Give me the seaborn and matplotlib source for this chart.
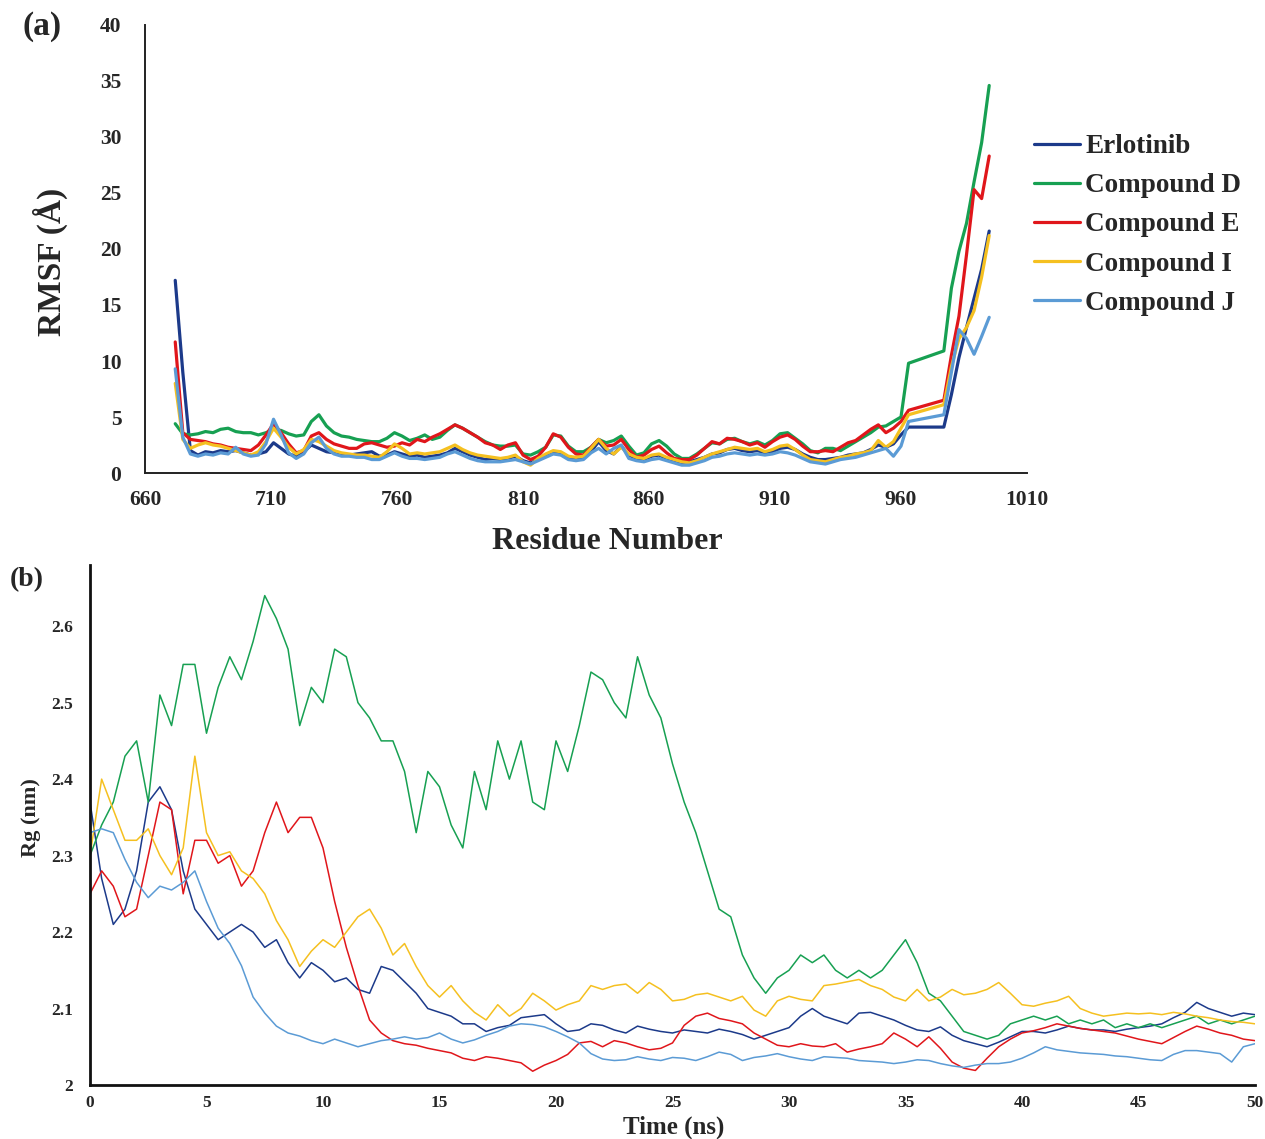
import matplotlib
matplotlib.use("Agg")
import matplotlib.pyplot as plt
import seaborn as sns
import pandas as pd

# ---------------- data ----------------
COMPOUNDS = ["Erlotinib", "Compound D", "Compound E", "Compound I", "Compound J"]
COLORS = ["#1c3a8a", "#17a052", "#e0161b", "#f5c020", "#5b9bd5"]

# Panel (a): RMSF per residue
RESIDUES = list(range(672, 964, 3)) + [977, 980, 983, 986, 989, 992, 995]

RMSF_ERLOTINIB = [
    17.2, 9.0, 2.0, 1.6, 1.9, 1.8, 2.0, 1.9, 2.0, 1.8,
    1.6, 1.7, 1.9, 2.7, 2.2, 1.7, 1.5, 1.9, 2.5, 2.2,
    1.9, 1.8, 1.6, 1.6, 1.7, 1.8, 1.9, 1.5, 1.6, 1.9,
    1.7, 1.5, 1.6, 1.4, 1.5, 1.6, 1.8, 2.2, 1.9, 1.6,
    1.4, 1.2, 1.3, 1.2, 1.3, 1.5, 1.1, 0.9, 1.2, 1.5,
    1.9, 1.7, 1.3, 1.3, 1.4, 1.9, 2.8, 2.0, 1.7, 2.4,
    1.6, 1.3, 1.2, 1.5, 1.6, 1.3, 1.0, 0.9, 1.0, 1.2,
    1.4, 1.7, 1.8, 2.1, 2.2, 2.0, 1.9, 2.0, 1.8, 1.9,
    2.2, 2.3, 2.1, 1.7, 1.4, 1.2, 1.2, 1.3, 1.4, 1.6,
    1.7, 1.8, 2.1, 2.5, 2.3, 2.6, 3.4, 4.1,
    4.1, 7.0, 10.3, 13.0, 15.6, 18.2, 21.6]

RMSF_D = [
    4.4, 3.5, 3.4, 3.5, 3.7, 3.6, 3.9, 4.0, 3.7, 3.6,
    3.6, 3.4, 3.6, 3.9, 3.8, 3.5, 3.3, 3.4, 4.6, 5.2,
    4.2, 3.6, 3.3, 3.2, 3.0, 2.9, 2.8, 2.8, 3.1, 3.6,
    3.3, 2.9, 3.1, 3.4, 3.0, 3.2, 3.8, 4.3, 4.0, 3.6,
    3.2, 2.8, 2.5, 2.4, 2.4, 2.5, 1.7, 1.6, 1.9, 2.3,
    3.4, 3.3, 2.4, 1.9, 1.9, 2.3, 3.0, 2.7, 2.9, 3.3,
    2.4, 1.6, 1.8, 2.6, 2.9, 2.4, 1.7, 1.3, 1.3, 1.7,
    2.2, 2.7, 2.6, 3.0, 3.1, 2.8, 2.6, 2.8, 2.5, 2.9,
    3.5, 3.6, 3.1, 2.6, 2.0, 1.8, 2.2, 2.2, 2.0, 2.4,
    2.8, 3.2, 3.6, 4.1, 4.2, 4.6, 5.0, 9.8,
    10.9, 16.5, 19.8, 22.3, 26.0, 29.5, 34.6]

RMSF_E = [
    11.7, 3.6, 3.0, 2.9, 2.8, 2.6, 2.5, 2.3, 2.2, 2.1,
    2.0, 2.5, 3.4, 4.4, 3.6, 2.6, 1.8, 2.0, 3.3, 3.6,
    3.0, 2.6, 2.4, 2.2, 2.2, 2.6, 2.7, 2.5, 2.3, 2.4,
    2.7, 2.5, 3.0, 2.8, 3.2, 3.5, 3.9, 4.3, 4.0, 3.6,
    3.2, 2.7, 2.5, 2.1, 2.5, 2.7, 1.6, 1.2, 1.5, 2.3,
    3.5, 3.2, 2.3, 1.7, 1.6, 2.3, 3.0, 2.4, 2.5, 3.0,
    2.1, 1.4, 1.6, 2.1, 2.4, 1.8, 1.3, 1.2, 1.2, 1.6,
    2.2, 2.8, 2.6, 3.1, 3.0, 2.8, 2.5, 2.7, 2.3, 2.8,
    3.2, 3.4, 3.0, 2.4, 1.9, 1.9, 2.0, 1.9, 2.3, 2.7,
    2.9, 3.4, 3.9, 4.3, 3.6, 4.0, 4.6, 5.6,
    6.5, 10.5, 14.0, 19.5, 25.3, 24.5, 28.3]

RMSF_I = [
    8.0, 3.0, 2.2, 2.5, 2.7, 2.5, 2.4, 2.2, 2.0, 1.8,
    1.6, 1.9, 2.8, 4.0, 3.2, 2.3, 1.7, 2.1, 3.0, 2.8,
    2.4, 2.0, 1.8, 1.7, 1.6, 1.6, 1.5, 1.4, 1.9, 2.6,
    2.2, 1.7, 1.8, 1.7, 1.8, 1.9, 2.2, 2.5, 2.1, 1.8,
    1.6, 1.5, 1.4, 1.3, 1.4, 1.6, 1.0, 0.7, 1.3, 1.7,
    2.0, 1.9, 1.5, 1.4, 1.5, 2.2, 3.0, 2.2, 1.7, 2.3,
    1.7, 1.4, 1.3, 1.6, 1.7, 1.4, 1.2, 1.0, 0.9, 1.1,
    1.4, 1.7, 1.9, 2.1, 2.3, 2.2, 2.1, 2.2, 1.9, 2.1,
    2.4, 2.5, 2.1, 1.6, 1.2, 1.1, 1.0, 1.2, 1.4, 1.5,
    1.7, 1.8, 2.0, 2.9, 2.3, 2.8, 4.0, 5.2,
    6.1, 9.5, 12.0, 13.0, 14.5, 17.5, 21.2]

RMSF_J = [
    9.3, 3.2, 1.7, 1.5, 1.7, 1.6, 1.8, 1.7, 2.3, 1.7,
    1.5, 1.6, 2.6, 4.8, 3.4, 1.8, 1.3, 1.7, 2.7, 3.2,
    2.2, 1.7, 1.5, 1.5, 1.4, 1.4, 1.2, 1.2, 1.5, 1.8,
    1.5, 1.3, 1.3, 1.2, 1.3, 1.4, 1.7, 1.9, 1.6, 1.3,
    1.1, 1.0, 1.0, 1.0, 1.1, 1.2, 1.0, 0.8, 1.1, 1.4,
    1.7, 1.6, 1.2, 1.1, 1.2, 1.8, 2.2, 1.7, 2.2, 2.5,
    1.3, 1.1, 1.0, 1.2, 1.3, 1.1, 0.9, 0.7, 0.7, 0.9,
    1.1, 1.4, 1.5, 1.7, 1.8, 1.7, 1.6, 1.7, 1.6, 1.7,
    1.9, 1.8, 1.6, 1.3, 1.0, 0.9, 0.8, 1.0, 1.2, 1.3,
    1.4, 1.6, 1.8, 2.0, 2.2, 1.5, 2.4, 4.6,
    5.2, 9.0, 12.8, 12.0, 10.6, 12.2, 13.9]

# Panel (b): radius of gyration vs time (ns), sampled every 0.5 ns
TIME_NS = [i * 0.5 for i in range(101)]

RG_ERLOTINIB = [
    2.37, 2.27, 2.21, 2.23, 2.28, 2.37, 2.39, 2.36, 2.28, 2.23,
    2.21, 2.19, 2.20, 2.21, 2.20, 2.18, 2.19, 2.16, 2.14, 2.16,
    2.15, 2.135, 2.14, 2.125, 2.12, 2.155, 2.15, 2.135, 2.12, 2.10,
    2.095, 2.09, 2.08, 2.08, 2.07, 2.075, 2.078, 2.088, 2.09, 2.092,
    2.08, 2.07, 2.072, 2.08, 2.078, 2.072, 2.068, 2.077, 2.073, 2.07,
    2.068, 2.072, 2.07, 2.068, 2.073, 2.07, 2.066, 2.06, 2.065, 2.07,
    2.075, 2.09, 2.10, 2.09, 2.085, 2.08, 2.094, 2.095, 2.09, 2.085,
    2.078, 2.072, 2.07, 2.076, 2.065, 2.058, 2.054, 2.05, 2.056, 2.063,
    2.07, 2.07, 2.068, 2.072, 2.077, 2.074, 2.072, 2.072, 2.07, 2.073,
    2.075, 2.077, 2.08, 2.088, 2.095, 2.108, 2.10, 2.095, 2.09, 2.094,
    2.092]

RG_D = [
    2.30, 2.34, 2.37, 2.43, 2.45, 2.37, 2.51, 2.47, 2.55, 2.55,
    2.46, 2.52, 2.56, 2.53, 2.58, 2.64, 2.61, 2.57, 2.47, 2.52,
    2.50, 2.57, 2.56, 2.50, 2.48, 2.45, 2.45, 2.41, 2.33, 2.41,
    2.39, 2.34, 2.31, 2.41, 2.36, 2.45, 2.40, 2.45, 2.37, 2.36,
    2.45, 2.41, 2.47, 2.54, 2.53, 2.50, 2.48, 2.56, 2.51, 2.48,
    2.42, 2.37, 2.33, 2.28, 2.23, 2.22, 2.17, 2.14, 2.12, 2.14,
    2.15, 2.17, 2.16, 2.17, 2.15, 2.14, 2.15, 2.14, 2.15, 2.17,
    2.19, 2.16, 2.12, 2.11, 2.09, 2.07, 2.065, 2.06, 2.065, 2.08,
    2.085, 2.09, 2.085, 2.09, 2.08, 2.085, 2.08, 2.085, 2.075, 2.08,
    2.075, 2.08, 2.075, 2.08, 2.085, 2.09, 2.08, 2.085, 2.08, 2.085,
    2.09]

RG_E = [
    2.25, 2.28, 2.26, 2.22, 2.23, 2.30, 2.37, 2.36, 2.25, 2.32,
    2.32, 2.29, 2.30, 2.26, 2.28, 2.33, 2.37, 2.33, 2.35, 2.35,
    2.31, 2.24, 2.18, 2.13, 2.085, 2.068, 2.058, 2.054, 2.052, 2.048,
    2.045, 2.042, 2.035, 2.032, 2.037, 2.035, 2.032, 2.029, 2.018, 2.026,
    2.032, 2.04, 2.055, 2.057, 2.05, 2.058, 2.055, 2.05, 2.046, 2.048,
    2.055, 2.078, 2.09, 2.094, 2.087, 2.084, 2.08, 2.068, 2.06, 2.052,
    2.05, 2.054, 2.051, 2.05, 2.054, 2.043, 2.047, 2.05, 2.054, 2.068,
    2.06, 2.05, 2.063, 2.048, 2.03, 2.022, 2.019, 2.035, 2.05, 2.06,
    2.068, 2.071, 2.075, 2.08, 2.077, 2.074, 2.072, 2.07, 2.068, 2.064,
    2.06, 2.057, 2.054, 2.062, 2.07, 2.077, 2.073, 2.068, 2.065, 2.06,
    2.058]

RG_I = [
    2.30, 2.40, 2.36, 2.32, 2.32, 2.335, 2.30, 2.275, 2.31, 2.43,
    2.33, 2.30, 2.305, 2.28, 2.27, 2.25, 2.215, 2.19, 2.155, 2.175,
    2.19, 2.18, 2.20, 2.22, 2.23, 2.205, 2.17, 2.185, 2.155, 2.13,
    2.115, 2.13, 2.11, 2.095, 2.085, 2.105, 2.09, 2.10, 2.12, 2.11,
    2.098, 2.105, 2.11, 2.13, 2.125, 2.13, 2.132, 2.12, 2.134, 2.125,
    2.11, 2.112, 2.118, 2.12, 2.115, 2.11, 2.116, 2.098, 2.09, 2.11,
    2.116, 2.112, 2.11, 2.13, 2.132, 2.135, 2.138, 2.13, 2.125, 2.115,
    2.11, 2.125, 2.11, 2.115, 2.125, 2.118, 2.12, 2.125, 2.134, 2.12,
    2.105, 2.103, 2.107, 2.11, 2.116, 2.10, 2.094, 2.09, 2.092, 2.094,
    2.093, 2.094, 2.092, 2.095, 2.093, 2.09, 2.088, 2.085, 2.083, 2.082,
    2.08]

RG_J = [
    2.33, 2.335, 2.33, 2.295, 2.265, 2.245, 2.26, 2.255, 2.265, 2.28,
    2.24, 2.205, 2.185, 2.156, 2.115, 2.094, 2.077, 2.068, 2.064, 2.058,
    2.054, 2.06, 2.055, 2.05, 2.054, 2.058, 2.06, 2.063, 2.06, 2.062,
    2.068, 2.06, 2.055, 2.059, 2.065, 2.07, 2.077, 2.08, 2.079, 2.076,
    2.07, 2.063, 2.055, 2.041, 2.034, 2.032, 2.033, 2.037, 2.034, 2.032,
    2.036, 2.035, 2.032, 2.037, 2.043, 2.04, 2.032, 2.036, 2.038, 2.041,
    2.037, 2.034, 2.032, 2.037, 2.036, 2.035, 2.032, 2.031, 2.03, 2.028,
    2.03, 2.033, 2.032, 2.028, 2.025, 2.023, 2.026, 2.028, 2.028, 2.03,
    2.035, 2.042, 2.05, 2.046, 2.044, 2.042, 2.041, 2.04, 2.038, 2.037,
    2.035, 2.033, 2.032, 2.04, 2.045, 2.045, 2.043, 2.041, 2.03, 2.05,
    2.054]

RMSF_X_TICKS = [660, 710, 760, 810, 860, 910, 960, 1010]
RMSF_Y_TICKS = [0, 5, 10, 15, 20, 25, 30, 35, 40]
RG_X_TICKS = [0, 5, 10, 15, 20, 25, 30, 35, 40, 45, 50]
RG_Y_TICKS = [2.0, 2.1, 2.2, 2.3, 2.4, 2.5, 2.6]
RG_Y_LABELS = ["2", "2.1", "2.2", "2.3", "2.4", "2.5", "2.6"]

# ---------------- tables ----------------
rmsf_series = [RMSF_ERLOTINIB, RMSF_D, RMSF_E, RMSF_I, RMSF_J]
rg_series = [RG_ERLOTINIB, RG_D, RG_E, RG_I, RG_J]
for s in rmsf_series:
    assert len(s) == len(RESIDUES), len(s)
for s in rg_series:
    assert len(s) == len(TIME_NS), len(s)

df_a = pd.concat([pd.DataFrame({"Residue": RESIDUES, "RMSF": v, "Compound": n})
                  for n, v in zip(COMPOUNDS, rmsf_series)], ignore_index=True)
df_b = pd.concat([pd.DataFrame({"Time": TIME_NS, "Rg": v, "Compound": n})
                  for n, v in zip(COMPOUNDS, rg_series)], ignore_index=True)
palette = dict(zip(COMPOUNDS, COLORS))

# ---------------- style ----------------
sns.set_style("white")
plt.rcParams["font.family"] = ["Liberation Serif", "DejaVu Serif"]
plt.rcParams["font.weight"] = "bold"

W, H = 1265, 1139
fig = plt.figure(figsize=(W / 100, H / 100), dpi=100)

def fx(px):
    return px / W

def fy(py):
    return 1 - py / H

# ---------------- panel (a) ----------------
ax_a = fig.add_axes([fx(145), fy(473), fx(1027) - fx(145), fy(25) - fy(473)])
sns.lineplot(data=df_a, x="Residue", y="RMSF", hue="Compound", palette=palette,
             hue_order=COMPOUNDS, linewidth=2.3, ax=ax_a, legend=True, sort=False)
ax_a.set_xlim(660, 1010)
ax_a.set_ylim(0, 40)
ax_a.set_xticks(RMSF_X_TICKS)
ax_a.set_yticks(RMSF_Y_TICKS)
ax_a.tick_params(axis="both", length=0, labelsize=15.5)
ax_a.tick_params(axis="y", pad=17)
ax_a.tick_params(axis="x", pad=12)
for lab in ax_a.get_xticklabels() + ax_a.get_yticklabels():
    lab.set_fontweight("bold")
for side in ["top", "right"]:
    ax_a.spines[side].set_visible(False)
for side in ["left", "bottom"]:
    ax_a.spines[side].set_color("#222222")
    ax_a.spines[side].set_linewidth(1.4)
ax_a.set_xlabel("")
ax_a.set_ylabel("")
handles, labels = ax_a.get_legend_handles_labels()
ax_a.legend_.remove()
leg = fig.legend(handles, labels, loc="center left",
                 bbox_to_anchor=(fx(1034), fy(225)), frameon=False,
                 prop={"family": "Liberation Serif", "weight": "bold", "size": 19.5},
                 handlelength=1.7, handletextpad=0.2, labelspacing=0.52,
                 borderpad=0, borderaxespad=0)
for line in leg.get_lines():
    line.set_linewidth(2.3)

fig.text(fx(50), fy(262), "RMSF (Å)", rotation=90, ha="center", va="center",
         fontsize=24, fontweight="bold")
fig.text(fx(607), fy(542), "Residue Number", ha="center", va="center",
         fontsize=23, fontweight="bold")
fig.text(fx(22), fy(27), "(a)", ha="left", va="center", fontsize=24, fontweight="bold")

# ---------------- panel (b) ----------------
ax_b = fig.add_axes([fx(90), fy(1085), fx(1255) - fx(90), fy(565) - fy(1085)])
sns.lineplot(data=df_b, x="Time", y="Rg", hue="Compound", palette=palette,
             hue_order=COMPOUNDS, linewidth=1.1, ax=ax_b, legend=False, sort=False)
ax_b.set_xlim(0, 50)
ax_b.set_ylim(2.0, 2.68)
ax_b.set_xticks(RG_X_TICKS)
ax_b.set_yticks(RG_Y_TICKS)
ax_b.set_yticklabels(RG_Y_LABELS)
ax_b.tick_params(axis="both", length=0, labelsize=12.5)
ax_b.tick_params(axis="y", pad=12)
ax_b.tick_params(axis="x", pad=7)
for lab in ax_b.get_xticklabels() + ax_b.get_yticklabels():
    lab.set_fontweight("bold")
for side in ["top", "right"]:
    ax_b.spines[side].set_visible(False)
for side in ["left", "bottom"]:
    ax_b.spines[side].set_color("#111111")
    ax_b.spines[side].set_linewidth(2.0)
ax_b.set_xlabel("")
ax_b.set_ylabel("")

fig.text(fx(31), fy(818), "Rg (nm)", rotation=90, ha="center", va="center",
         fontsize=16, fontweight="bold")
fig.text(fx(674), fy(1127), "Time (ns)", ha="center", va="center",
         fontsize=18, fontweight="bold")
fig.text(fx(10), fy(580), "(b)", ha="left", va="center", fontsize=20, fontweight="bold")

fig.savefig("out.png", dpi=100)
